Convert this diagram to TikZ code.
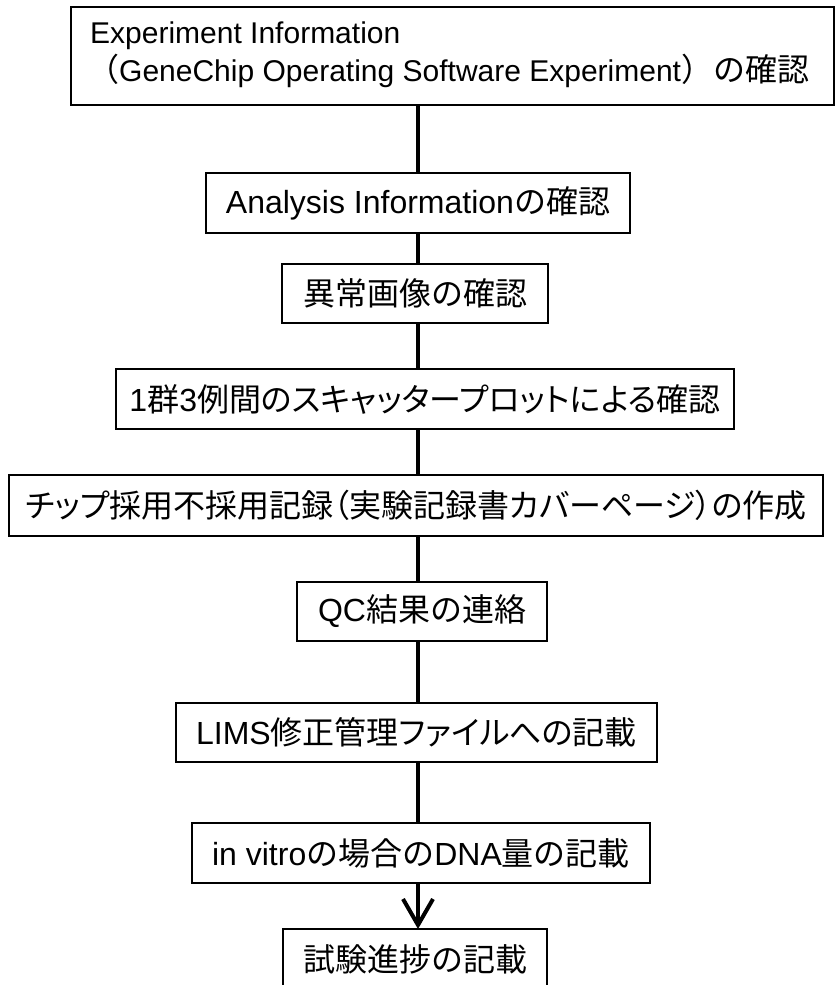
\documentclass[tikz,border=0pt]{standalone}
\usepackage{fontspec}
\setmainfont{Liberation Sans}
\newfontfamily\jp{Noto Sans CJK JP}
\newfontfamily\jpp{Noto Sans CJK JP}[RawFeature=+palt]
\newcommand\jtxt[1]{{\jp\fontsize{32}{38}\selectfont #1}}
\usetikzlibrary{arrows.meta}
\tikzset{
  box/.style={draw, line width=1.8pt, inner sep=0pt, outer sep=0pt,
    font=\fontsize{32}{38}\selectfont},
  link/.style={line width=4pt},
  ttl/.style={anchor=base west, inner sep=0pt, font=\fontsize{30}{36}\selectfont}
}
\begin{document}
\begin{tikzpicture}[x=1pt,y=-1pt]
\useasboundingbox (0,0) rectangle (836,985);
\fill[white] (0,0) rectangle (836,985);
\clip (0,0) rectangle (836,985);
\coordinate (L) at (418,0);
% box 1
\node[box, anchor=north west, minimum width=763, minimum height=98] (B1) at (71,7) {};
\node[ttl] (B1a) at (90,43) {Experiment Information};
\node[ttl] (B1b) at (87,81) {\jtxt{（}GeneChip Operating Software Experiment\jtxt{）の確認}};
\node[box, minimum width=424, minimum height=60] (B2) at (418,203) {Analysis Information{\jp の確認}};
\node[box, minimum width=266, minimum height=59] (B3) at (415,293.5) {\jp 異常画像の確認};
\node[box, minimum width=618, minimum height=60] (B4) at (425,399) {1{\jpp 群}3{\jpp 例間のスキャッタープロットによる確認}};
\node[box, minimum width=814, minimum height=61] (B5) at (416,505.5) {\jpp チップ採用不採用記録（実験記録書カバーページ）の作成};
\node[box, minimum width=250, minimum height=59] (B6) at (422,611.5) {QC{\jp 結果の連絡}};
\node[box, minimum width=481, minimum height=59] (B7) at (416.5,732.5) {LIMS{\jpp 修正管理ファイルへの記載}};
\node[box, minimum width=458, minimum height=60] (B8) at (421,853) {in vitro{\jp の場合の}DNA{\jp 量の記載}};
\node[box, minimum width=264, minimum height=60] (B9) at (415,959) {\jp 試験進捗の記載};
% connectors
\draw[link] (B1.south -| L) -- (B2.north -| L);
\draw[link] (B2.south -| L) -- (B3.north -| L);
\draw[link] (B3.south -| L) -- (B4.north -| L);
\draw[link] (B4.south -| L) -- (B5.north -| L);
\draw[link] (B5.south -| L) -- (B6.north -| L);
\draw[link] (B6.south -| L) -- (B7.north -| L);
\draw[link] (B7.south -| L) -- (B8.north -| L);
\draw[link, -{Straight Barb[length=26pt, width=30pt]}] (B8.south -| L) -- (B9.north -| L);
\end{tikzpicture}
\end{document}
